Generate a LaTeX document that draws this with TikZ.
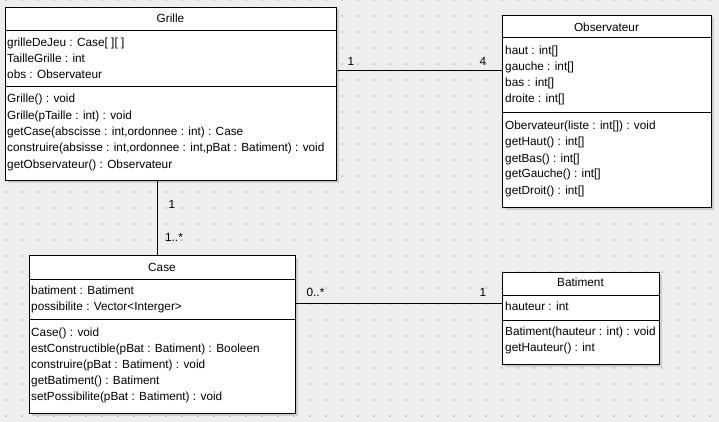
\documentclass[tikz,border=0pt]{standalone}
\usepackage{fontspec}
\setmainfont{Liberation Sans}
\usetikzlibrary{shadows}
\definecolor{bgc}{RGB}{238,238,238}
\definecolor{dotc}{RGB}{200,200,200}
\definecolor{shc}{RGB}{205,205,205}
\tikzset{
  umlbox/.style={draw=black, fill=white, line width=1pt, inner sep=0pt, anchor=north west,
    drop shadow={opacity=1, fill=shc, shadow xshift=2pt, shadow yshift=-2pt}},
  sepline/.style={draw=black, line width=1pt},
  conn/.style={draw=black, line width=1pt},
  txt/.style={anchor=base west, inner sep=0pt, font=\fontsize{11.8}{14}\selectfont},
  ttl/.style={anchor=base, inner sep=0pt, font=\fontsize{11.8}{14}\selectfont},
  mult/.style={anchor=base, inner sep=0pt, font=\fontsize{11.8}{14}\selectfont},
}
\begin{document}
\begin{tikzpicture}[x=1pt,y=-1pt]
\useasboundingbox (0,0) rectangle (719,422);
\fill[bgc] (0,0) rectangle (719,422);
\foreach \i in {0,...,44} {
  \foreach \j in {0,...,26} {
    \fill[dotc] ({6+16*\i-1},{16*\j-1}) rectangle ++(2,2);
  }
}
% Grille
\node[umlbox, minimum width=331pt, minimum height=173pt] (grille) at (5,7) {};
\draw[sepline] (grille.west |- 0,31) -- (grille.east |- 0,31);
\draw[sepline] (grille.west |- 0,87) -- (grille.east |- 0,87);
\node[ttl] (gt) at (170.5,23) {Grille};
\node[txt] (ga1) at (7,47) {grilleDeJeu : Case[ ][ ]};
\node[txt] (ga2) at (7,63) {TailleGrille : int};
\node[txt] (ga3) at (7,79) {obs : Observateur};
\node[txt] (gm1) at (7,103) {Grille() : void};
\node[txt] (gm2) at (7,119.5) {Grille(pTaille : int) : void};
\node[txt] (gm3) at (7,135.5) {getCase(abscisse : int,ordonnee : int) : Case};
\node[txt] (gm4) at (7,151.5) {construire(absisse : int,ordonnee : int,pBat : Batiment) : void};
\node[txt] (gm5) at (7,168) {getObservateur() : Observateur};
% Observateur
\node[umlbox, minimum width=209pt, minimum height=192pt] (obs) at (502,15) {};
\draw[sepline] (obs.west |- 0,38) -- (obs.east |- 0,38);
\draw[sepline] (obs.west |- 0,113) -- (obs.east |- 0,113);
\node[ttl] (ot) at (606.5,32) {Observateur};
\node[txt] (oa1) at (505,55) {haut : int[]};
\node[txt] (oa2) at (505,71) {gauche : int[]};
\node[txt] (oa3) at (505,87) {bas : int[]};
\node[txt] (oa4) at (505,103) {droite : int[]};
\node[txt] (om1) at (505,130) {Obervateur(liste : int[]) : void};
\node[txt] (om2) at (505,146) {getHaut() : int[]};
\node[txt] (om3) at (505,162) {getBas() : int[]};
\node[txt] (om4) at (505,178) {getGauche() : int[]};
\node[txt] (om5) at (505,194) {getDroit() : int[]};
% Case
\node[umlbox, minimum width=266pt, minimum height=158pt] (case) at (29,255) {};
\draw[sepline] (case.west |- 0,279) -- (case.east |- 0,279);
\draw[sepline] (case.west |- 0,319) -- (case.east |- 0,319);
\node[ttl] (ct) at (162,271) {Case};
\node[txt] (ca1) at (31,294) {batiment : Batiment};
\node[txt] (ca2) at (31,310) {possibilite : Vector<Interger>};
\node[txt] (cm1) at (31,336) {Case() : void};
\node[txt] (cm2) at (31,352) {estConstructible(pBat : Batiment) : Booleen};
\node[txt] (cm3) at (31,368) {construire(pBat : Batiment) : void};
\node[txt] (cm4) at (31,384) {getBatiment() : Batiment};
\node[txt] (cm5) at (31,400) {setPossibilite(pBat : Batiment) : void};
% Batiment
\node[umlbox, minimum width=157pt, minimum height=92pt] (bat) at (502,272) {};
\draw[sepline] (bat.west |- 0,295) -- (bat.east |- 0,295);
\draw[sepline] (bat.west |- 0,320) -- (bat.east |- 0,320);
\node[ttl] (bt) at (580.5,286.5) {Batiment};
\node[txt] (ba1) at (505,310.5) {hauteur : int};
\node[txt] (bm1) at (505,335.5) {Batiment(hauteur : int) : void};
\node[txt] (bm2) at (505,351.5) {getHauteur() : int};
% connectors
\draw[conn] (grille.east |- 0,71) -- (obs.west |- 0,71);
\draw[conn] (grille.south -| 157,0) -- (case.north -| 157,0);
\draw[conn] (case.east |- 0,303) -- (bat.west |- 0,303);
% multiplicities
\node[mult] (m1) at (351,66) {1};
\node[mult] (m2) at (483,66) {4};
\node[mult] (m3) at (172,208) {1};
\node[mult] (m4) at (174,241) {1..*};
\node[mult] (m5) at (315.5,296) {0..*};
\node[mult] (m6) at (483,296) {1};
\end{tikzpicture}
\end{document}
